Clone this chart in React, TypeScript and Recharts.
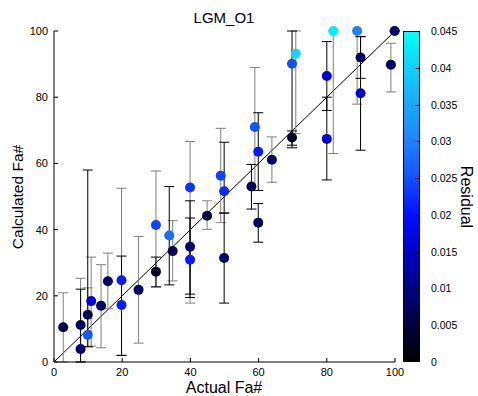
import { ScatterChart, Scatter, XAxis, YAxis, ErrorBar, Cell, ReferenceLine } from "recharts";

// values
const actual = [2.7, 7.8, 7.8, 9.9, 9.9, 10.9, 13.8, 15.8, 19.8, 19.8, 24.8, 29.9, 29.9, 33.8, 34.8, 39.9, 39.9, 39.9, 44.9, 48.9, 49.9, 49.9, 57.9, 58.9, 59.9, 59.9, 63.9, 69.8, 70.9, 69.8, 80, 80, 81.9, 88.9, 89.9, 89.9, 98.8, 99.9];
const calculated = [10.5, 11.2, 3.9, 8.2, 14.3, 18.4, 17, 24.4, 24.7, 17.2, 21.8, 27.3, 41.4, 38.2, 33.5, 52.7, 34.8, 30.9, 44.2, 56.3, 51.6, 31.4, 53, 71, 63.5, 42.1, 61.1, 90.1, 93.1, 67.8, 86.4, 67.4, 100, 100, 92, 81.2, 89.8, 100];
const lower = [0, 0, 0, 4.6, 4.6, 4.8, 4.3, 16.1, 2, 2, 5.7, 22.7, 22.7, 23.3, 24.5, 17.8, 20.5, 19.5, 40.1, 42.1, 45, 17.8, 46.2, 51.8, 51.8, 36.2, 54.3, 65.5, 69, 64.7, 76, 55, 63, 77.9, 85.7, 64, 81.6, 100];
const upper = [20.9, 25.3, 22, 22.4, 58, 31.7, 29.4, 32.9, 52.5, 32, 37.9, 31.7, 57.7, 53, 42.7, 66.6, 48.7, 43.5, 48.7, 70.6, 66.4, 45, 59.7, 89, 75.3, 47.9, 68, 100, 100, 69.8, 96.8, 80, 100, 100, 98.3, 98.3, 96.3, 100];
const residual = [0.006, 0.008, 0.009, 0.026, 0.007, 0.016, 0.008, 0.008, 0.021, 0.021, 0.008, 0.003, 0.024, 0.028, 0.007, 0.023, 0.009, 0.021, 0.005, 0.024, 0.022, 0.009, 0.007, 0.025, 0.021, 0.007, 0.008, 0.025, 0.041, 0.004, 0.016, 0.015, 0.043, 0.03, 0.008, 0.016, 0.009, 0.008];
const barTone = ["gray", "gray", "black", "gray", "black", "gray", "gray", "gray", "gray", "black", "gray", "black", "gray", "black", "gray", "gray", "black", "black", "gray", "gray", "black", "black", "black", "gray", "black", "black", "gray", "black", "gray", "black", "black", "black", "gray", "gray", "black", "black", "gray", "black"];

const axisTicks = [0, 20, 40, 60, 80, 100];
const residualTicks = [0, 0.005, 0.01, 0.015, 0.02, 0.025, 0.03, 0.035, 0.04, 0.045];
const residualLabels = ["0", "0.005", "0.01", "0.015", "0.02", "0.025", "0.03", "0.035", "0.04", "0.045"];
const residualMax = 0.045;

const palette: [number, number[]][] = [
  [0, [0, 0, 0]],
  [0.005, [0, 0, 60]],
  [0.01, [0, 0, 128]],
  [0.015, [0, 0, 200]],
  [0.02, [0, 16, 255]],
  [0.025, [20, 80, 255]],
  [0.03, [30, 130, 255]],
  [0.035, [26, 168, 255]],
  [0.04, [16, 208, 255]],
  [0.045, [0, 255, 255]],
];

function residualColor(r: number) {
  for (let i = 1; i < palette.length; i++) {
    const [v1, c1] = palette[i];
    const [v0, c0] = palette[i - 1];
    if (r <= v1) {
      const t = (r - v0) / (v1 - v0);
      const c = c0.map((a, k) => Math.round(a + (c1[k] - a) * t));
      return `rgb(${c[0]},${c[1]},${c[2]})`;
    }
  }
  return "rgb(0,255,255)";
}

const points = actual.map((x, i) => ({
  x,
  y: calculated[i],
  err: [calculated[i] - lower[i], upper[i] - calculated[i]],
  color: residualColor(residual[i]),
  tone: barTone[i],
}));
const grayPts = points.filter((p) => p.tone === "gray");
const blackPts = points.filter((p) => p.tone === "black");

const font = "'Liberation Sans', Arial, sans-serif";
const W = 478;
const H = 396;
const plotTop = 31;
const plotBottom = 362;

const Dot = (props: any) => <circle cx={props.cx} cy={props.cy} r={5} fill={props.fill} />;

export default function App() {
  const gradient = palette
    .map(([v, c]) => `rgb(${c[0]},${c[1]},${c[2]}) ${(v / residualMax) * 100}%`)
    .join(", ");
  const barH = plotBottom - plotTop;
  return (
    <div style={{ position: "fixed", left: 0, top: 0, width: W, height: H, background: "#fff", fontFamily: font }}>
      <ScatterChart width={W} height={H} margin={{ top: plotTop, right: 83, bottom: 14, left: 24 }}>
        <XAxis
          xAxisId="b"
          type="number"
          dataKey="x"
          domain={[0, 100]}
          ticks={axisTicks}
          height={20}
          tickSize={-4}
          tickMargin={10}
          stroke="#000"
          tick={{ fontSize: 11, fill: "#000", fontFamily: font }}
        />
        <XAxis xAxisId="t" orientation="top" type="number" domain={[0, 100]} ticks={axisTicks} height={0} tickSize={-4} stroke="#000" tickFormatter={() => ""} />
        <YAxis
          yAxisId="l"
          type="number"
          dataKey="y"
          domain={[0, 100]}
          ticks={axisTicks}
          width={30}
          tickSize={-4}
          tickMargin={10}
          stroke="#000"
          tick={{ fontSize: 11, fill: "#000", fontFamily: font }}
        />
        <YAxis yAxisId="r" orientation="right" type="number" domain={[0, 100]} ticks={axisTicks} width={0} tickSize={-4} stroke="#000" tickFormatter={() => ""} />
        <ReferenceLine
          xAxisId="b"
          yAxisId="l"
          segment={[{ x: 0, y: 0 }, { x: 100, y: 100 }]}
          stroke="#000"
          strokeWidth={1}
        />
        <Scatter xAxisId="b" yAxisId="l" data={grayPts} shape={Dot} isAnimationActive={false}>
          <ErrorBar dataKey="err" direction="y" width={5} stroke="#808080" strokeWidth={1} />
          {grayPts.map((p, i) => (
            <Cell key={i} fill={p.color} />
          ))}
        </Scatter>
        <Scatter xAxisId="b" yAxisId="l" data={blackPts} shape={Dot} isAnimationActive={false}>
          <ErrorBar dataKey="err" direction="y" width={5} stroke="#000" strokeWidth={1} />
          {blackPts.map((p, i) => (
            <Cell key={i} fill={p.color} />
          ))}
        </Scatter>
      </ScatterChart>

      <div style={{ position: "absolute", left: 224, top: 9, transform: "translateX(-50%)", fontSize: 15, lineHeight: "17px", whiteSpace: "nowrap" }}>
        LGM_O1
      </div>
      <div style={{ position: "absolute", left: 224, top: 380, transform: "translateX(-50%)", fontSize: 16, lineHeight: "16px", whiteSpace: "nowrap" }}>
        Actual Fa#
      </div>
      <div style={{ position: "absolute", left: 18, top: 197, transform: "translate(-50%, -50%) rotate(-90deg)", fontSize: 15.5, lineHeight: "16px", whiteSpace: "nowrap" }}>
        Calculated Fa#
      </div>
      <div style={{ position: "absolute", left: 466, top: 197, transform: "translate(-50%, -50%) rotate(90deg)", fontSize: 16, lineHeight: "16px", whiteSpace: "nowrap" }}>
        Residual
      </div>

      <div
        style={{
          position: "absolute",
          left: 403,
          top: plotTop,
          width: 17,
          height: barH,
          boxSizing: "border-box",
          border: "1px solid #000",
          background: `linear-gradient(to top, ${gradient})`,
        }}
      >
        {residualTicks.slice(1, -1).map((v) => (
          <div key={v} style={{ position: "absolute", right: 0, width: 4, height: 1, background: "#000", top: barH - 1 - (v / residualMax) * barH }} />
        ))}
      </div>
      {residualTicks.map((v, i) => (
        <div
          key={v}
          style={{ position: "absolute", left: 431, top: plotBottom - (v / residualMax) * barH - 7, fontSize: 10.5, lineHeight: "14px" }}
        >
          {residualLabels[i]}
        </div>
      ))}
    </div>
  );
}
